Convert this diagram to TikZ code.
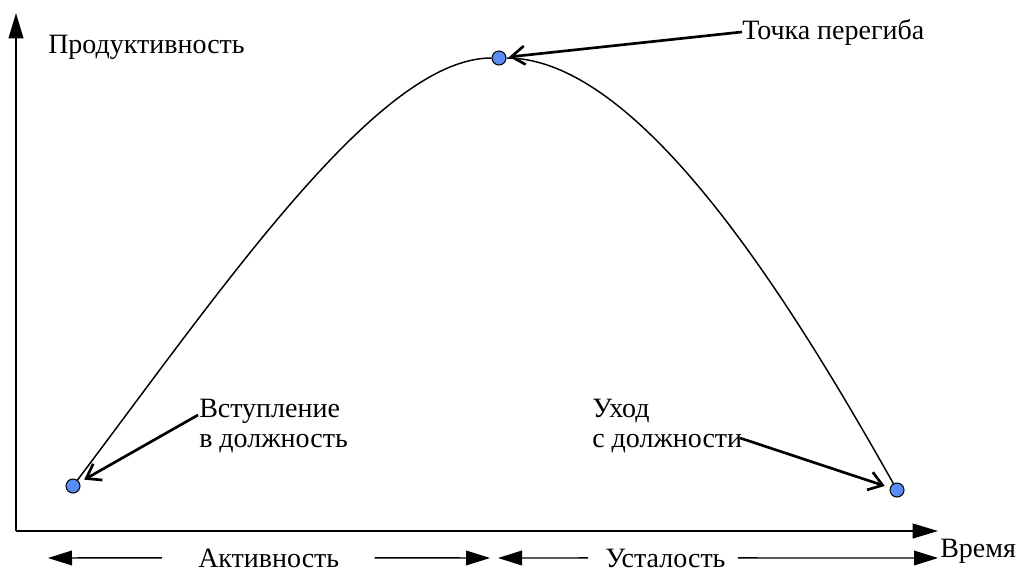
\documentclass[tikz,border=0pt]{standalone}
\usepackage{fontspec}
\setmainfont{Liberation Serif}
\usepackage{tikz}
\usepackage{xcolor}
\usetikzlibrary{arrows.meta, positioning, calc}
\definecolor{cDot}{RGB}{90,140,245}
\tikzset{
	axisline/.style={line width=1.5pt, -{Triangle[length=19pt, width=11pt]}},
	spanarrow/.style={line width=1.1pt, -{Triangle[length=18pt, width=11pt]}},
	callout/.style={line width=2pt, -{Straight Barb[length=10pt, width=14pt]}},
	curveline/.style={line width=1.1pt},
	% point markers and texts
	dot/.style={circle, draw=black, line width=0.8pt, fill=cDot, minimum size=10.5pt, inner sep=0pt},
	txt/.style={inner sep=0pt, align=left, font=\fontsize{21}{22.5}\selectfont},
}

\begin{document}
\begin{tikzpicture}[x=0.75pt, y=-0.75pt]
			\useasboundingbox (0,0) rectangle (1021,572);
			\coordinate (o) at (16,531);
			\coordinate (yTip) at (16,13);
			\coordinate (xTip) at (938,531);
			\draw[axisline] (o) -- (yTip);
			\draw[axisline] (o) -- (xTip);
			\node[txt, anchor=base west] (prod) at (48,53) {Продуктивность};
			\node[txt, anchor=base west] (vremya) at (940,557) {Время};
			\node[txt, anchor=base west] (tochka) at (742,39) {Точка перегиба};
			\node[txt, anchor=north west] (vst) at (199,399) {Вступление\\в должность};
			\node[txt, anchor=north west] (ukhod) at (592,399) {Уход\\с должности};
			\node[dot] (pStart) at (73,486) {};
			\node[dot] (pTop) at (499,58) {};
			\node[dot] (pEnd) at (897,490) {};
			\draw[curveline] (pStart) .. controls (228,280) and (380,58) .. (pTop)
				.. controls (640,58) and (790,300) .. (pEnd);
			\coordinate (vstFrom) at (198,415);
			\coordinate (ukhodFrom) at (740,438);
			\draw[callout, shorten >=2pt] (tochka.west) -- (pTop);
			\draw[callout, shorten >=4pt] (vstFrom) -- (pStart);
			\draw[callout, shorten >=4pt] (ukhodFrom) -- (pEnd);
			% span arrows under the time axis
			\node[txt, anchor=base west] (akt) at (198,567) {Активность};
			\node[txt, anchor=base west] (ust) at (605,567) {Усталость};
			\coordinate (aLeft) at (48,558);
			\coordinate (aMidL) at (490,558);
			\coordinate (aMidR) at (498,558);
			\coordinate (aRight) at (938,558);
			\draw[spanarrow] ($(akt.west)+(-36,0)$) -- (aLeft);
			\draw[spanarrow] ($(akt.east)+(35,0)$) -- (aMidL);
			\draw[spanarrow] ($(ust.west)+(-17,0)$) -- (aMidR);
			\draw[spanarrow] ($(ust.east)+(12,0)$) -- (aRight);
		\end{tikzpicture}
\end{document}
